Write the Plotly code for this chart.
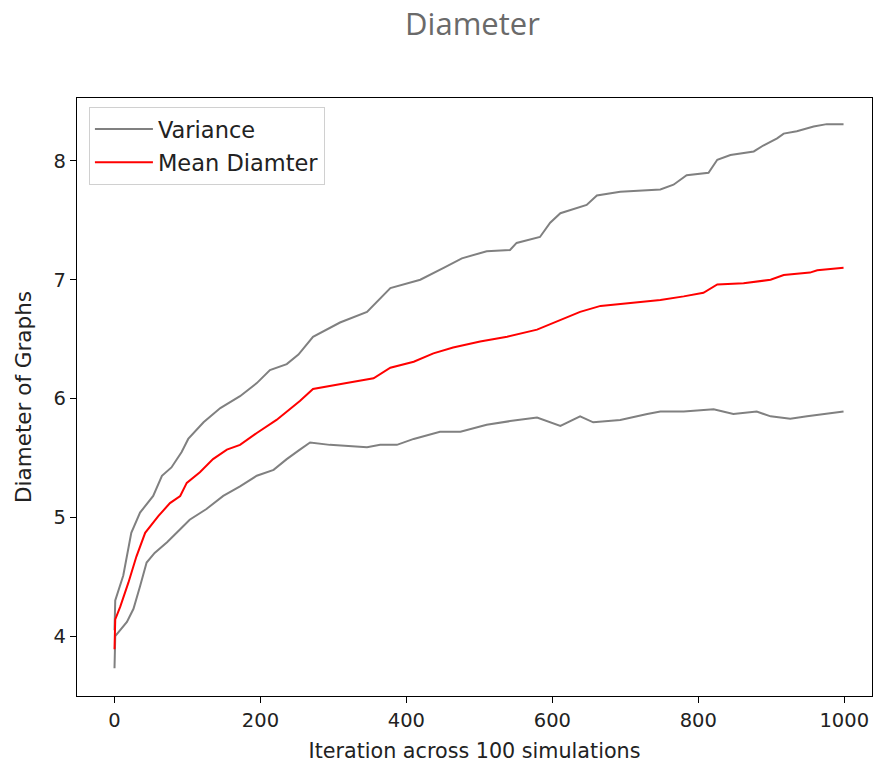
import plotly.graph_objects as go

# Upper variance band (mean + std)
upper_x = [0, 1, 12, 23, 35, 53, 65, 78, 92, 101, 122, 145, 172, 195, 213, 236, 252, 272, 309, 346,
           378, 419, 451, 476, 510, 542, 551, 583, 597, 611, 647, 661, 693, 748, 766, 784, 814, 826, 844, 876,
           889, 908, 917, 935, 958, 976, 999]
upper_y = [4.05, 4.30, 4.51, 4.87, 5.04, 5.18, 5.35, 5.42, 5.55, 5.66, 5.80, 5.92, 6.02, 6.13, 6.24, 6.29, 6.37, 6.52, 6.64, 6.73,
           6.93, 7.00, 7.10, 7.18, 7.24, 7.25, 7.31, 7.36, 7.48, 7.56, 7.63, 7.71, 7.74, 7.76, 7.80, 7.88, 7.90, 8.01, 8.05, 8.08,
           8.13, 8.19, 8.23, 8.25, 8.29, 8.31, 8.31]

# Mean diameter
mean_x = [0, 1, 8, 19, 30, 42, 60, 76, 90, 99, 117, 135, 154, 172, 195, 222, 254, 272, 318, 355,
          378, 410, 437, 464, 501, 538, 579, 611, 638, 666, 702, 748, 780, 807, 826, 862, 899, 917, 953, 963, 999]
mean_y = [3.89, 4.14, 4.25, 4.45, 4.67, 4.87, 5.01, 5.12, 5.18, 5.29, 5.38, 5.49, 5.57, 5.61, 5.71, 5.82, 5.98, 6.08, 6.13, 6.17,
          6.26, 6.31, 6.38, 6.43, 6.48, 6.52, 6.58, 6.66, 6.73, 6.78, 6.80, 6.83, 6.86, 6.89, 6.96, 6.97, 7.00, 7.04, 7.06, 7.08, 7.10]

# Lower variance band (mean - std)
lower_x = [0, 1, 17, 26, 35, 44, 55, 72, 90, 103, 126, 149, 172, 195, 218, 236, 254, 268, 295, 318,
           346, 364, 387, 410, 446, 474, 510, 542, 579, 611, 638, 656, 693, 730, 748, 780, 821, 848, 880, 899,
           926, 949, 990, 999]
lower_y = [3.73, 4.00, 4.12, 4.23, 4.42, 4.62, 4.70, 4.79, 4.90, 4.98, 5.07, 5.18, 5.26, 5.35, 5.40, 5.49, 5.57, 5.63, 5.61, 5.60,
           5.59, 5.61, 5.61, 5.66, 5.72, 5.72, 5.78, 5.81, 5.84, 5.77, 5.85, 5.80, 5.82, 5.87, 5.89, 5.89, 5.91, 5.87, 5.89, 5.85,
           5.83, 5.85, 5.88, 5.89]

x_ticks = [0, 200, 400, 600, 800, 1000]
y_ticks = [4, 5, 6, 7, 8]

GRAY = "#808080"
RED = "#ff0000"
FONT = "DejaVu Sans"

fig = go.Figure()
fig.add_trace(go.Scatter(x=upper_x, y=upper_y, mode="lines", name="Variance",
                         line=dict(color=GRAY, width=2), legendgroup="var"))
fig.add_trace(go.Scatter(x=lower_x, y=lower_y, mode="lines", name="Variance",
                         line=dict(color=GRAY, width=2), legendgroup="var", showlegend=False))
fig.add_trace(go.Scatter(x=mean_x, y=mean_y, mode="lines", name="Mean Diamter",
                         line=dict(color=RED, width=2), legendgroup="mean"))

axis_common = dict(showline=True, linecolor="black", linewidth=1.3, mirror=True,
                   ticks="outside", ticklen=6, tickwidth=1.2, tickcolor="black",
                   showgrid=False, zeroline=False,
                   tickfont=dict(family=FONT, size=19.5, color="#222"))

fig.update_layout(
    width=875, height=763,
    margin=dict(l=77, r=3, t=98, b=67),
    paper_bgcolor="white", plot_bgcolor="white",
    title=dict(text="Diameter", x=0.54, xanchor="center", y=0.968, yanchor="middle",
               font=dict(family="Open Sans", size=31, color="#6a6a6a")),
    xaxis=dict(range=[-51.4, 1038], tickvals=x_ticks,
               title=dict(text="Iteration across 100 simulations", standoff=12,
                          font=dict(family=FONT, size=20.7, color="#222")),
               **axis_common),
    yaxis=dict(range=[3.496, 8.53], tickvals=y_ticks,
               title=dict(text="Diameter of Graphs", standoff=16,
                          font=dict(family=FONT, size=21.5, color="#222")),
               **axis_common),
    legend=dict(x=0.015, y=0.985, xanchor="left", yanchor="top",
                bgcolor="rgba(255,255,255,0.8)", bordercolor="#d0d0d0", borderwidth=1,
                font=dict(family=FONT, size=22.5, color="#222"),
                itemwidth=58, tracegroupgap=1),
    showlegend=True,
)

fig.write_html("out.html")
